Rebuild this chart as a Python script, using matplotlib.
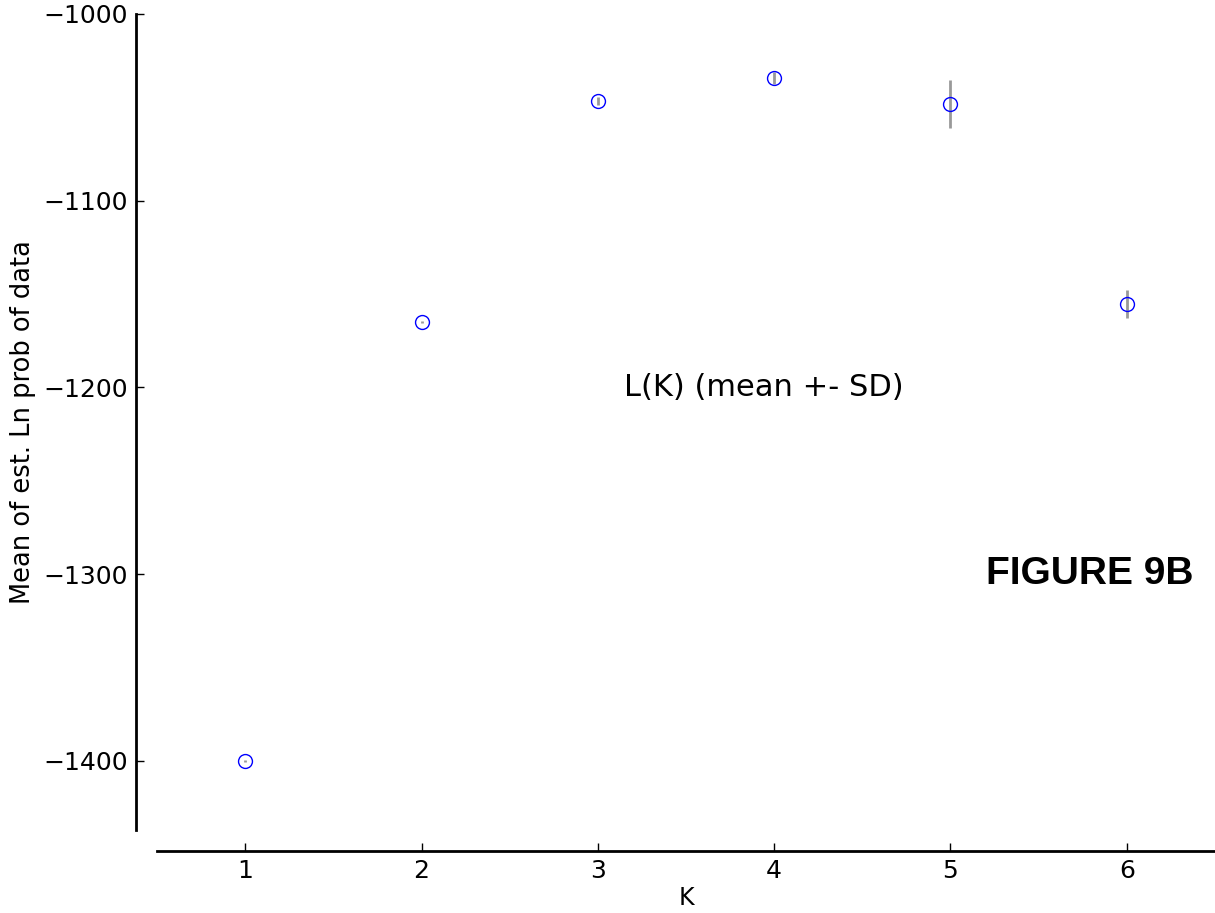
import matplotlib
matplotlib.use('Agg')
import matplotlib.pyplot as plt
import numpy as np

k_vals = [1, 2, 3, 4, 5, 6]
lnp_mean = [-1400.0, -1164.9, -1046.6, -1034.3, -1048.2, -1155.3]
lnp_sd = [0.5, 0.7, 1.9, 3.0, 12.9, 7.5]

fig = plt.figure(figsize=(12.15, 9.13), dpi=100)
ax = fig.add_axes([157 / 1215, 83 / 913, 1058 / 1215, 816 / 913])

ax.errorbar(k_vals, lnp_mean, yerr=lnp_sd, fmt='none', ecolor='#999999',
            elinewidth=2, capsize=0, zorder=2)
ax.plot(k_vals, lnp_mean, 'o', markerfacecolor='none', markeredgecolor='blue',
        markersize=10, markeredgewidth=1, zorder=3)

ax.set_xlim(0.5, 6.5)
ax.set_ylim(-1437, -1000)
ax.set_xticks(k_vals)
ax.set_yticks([-1400, -1300, -1200, -1100, -1000])

for s in ['top', 'right']:
    ax.spines[s].set_visible(False)
for s in ['left', 'bottom']:
    ax.spines[s].set_position(('outward', 15))
    ax.spines[s].set_linewidth(2)
ax.tick_params(direction='in', length=6, width=1, labelsize=18, pad=6)

ax.set_xlabel('K', fontsize=17, labelpad=2)
ax.set_ylabel('Mean of est. Ln prob of data', fontsize=18.5, labelpad=5)

ax.text(3.94, -1200, 'L(K) (mean +- SD)', fontsize=22, ha='center', va='center')
ax.text(5.79, -1300, 'FIGURE 9B', fontsize=28, fontweight='bold',
        family='Liberation Sans', ha='center', va='center')

fig.savefig('out.png', dpi=100)
